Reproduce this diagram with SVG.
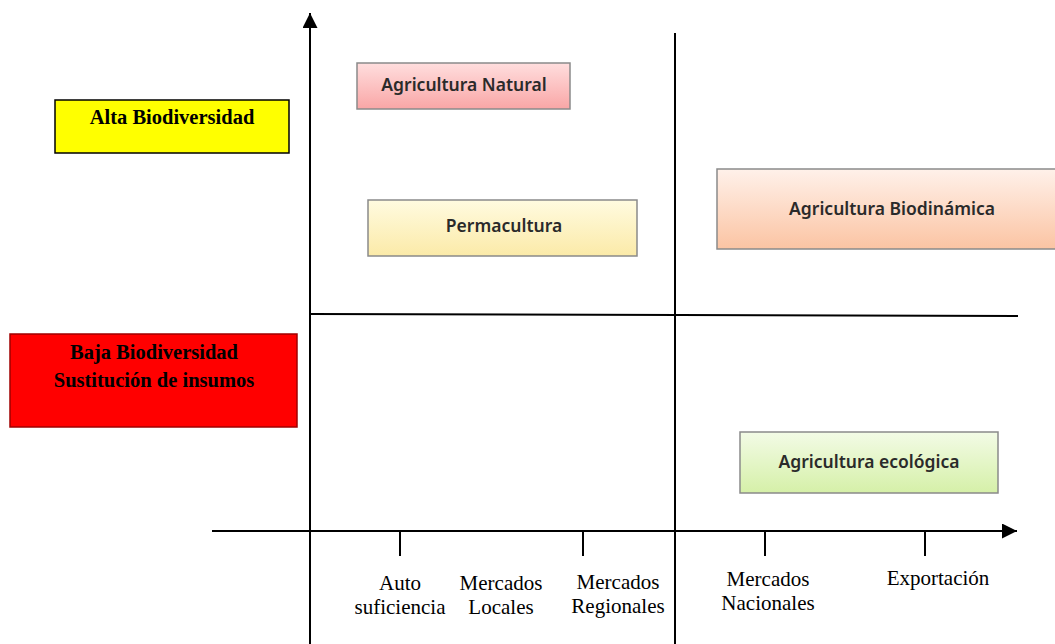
<svg xmlns="http://www.w3.org/2000/svg" width="1055" height="644" viewBox="0 0 1055 644">
<defs>
<linearGradient id="gPink" x1="0" y1="0" x2="0" y2="1"><stop offset="0" stop-color="#ffdede"/><stop offset="1" stop-color="#f9a6a6"/></linearGradient>
<linearGradient id="gYel" x1="0" y1="0" x2="0" y2="1"><stop offset="0" stop-color="#fffbe0"/><stop offset="1" stop-color="#fbeaa8"/></linearGradient>
<linearGradient id="gPeach" x1="0" y1="0" x2="0" y2="1"><stop offset="0" stop-color="#fff1ea"/><stop offset="1" stop-color="#fbc4a3"/></linearGradient>
<linearGradient id="gGreen" x1="0" y1="0" x2="0" y2="1"><stop offset="0" stop-color="#f3fbe6"/><stop offset="1" stop-color="#d5f0a8"/></linearGradient>
<marker id="arr" viewBox="0 0 10 10" refX="10" refY="5" markerWidth="15" markerHeight="15" markerUnits="userSpaceOnUse" orient="auto"><path d="M0,0 L10,5 L0,10 z" fill="#000"/></marker>
</defs>
<style>
.ax{stroke:#000;stroke-width:2;fill:none}
.box{stroke:#8a8a8a;stroke-width:1.5}
.bt{font-family:"Noto Sans","Open Sans",sans-serif;font-size:17.5px;font-weight:600;fill:#2a2a2a;text-anchor:middle}
.lt{font-family:"Liberation Serif",serif;font-size:21px;fill:#000;text-anchor:middle}
.lb{font-family:"Liberation Serif",serif;font-size:20.5px;font-weight:bold;fill:#000;text-anchor:middle}
</style>
<rect width="1055" height="644" fill="#fff"/>
<g id="connectors">
<line class="ax" x1="310" y1="644" x2="310" y2="13" marker-end="url(#arr)"/>
<line class="ax" x1="212" y1="531" x2="1017" y2="531" marker-end="url(#arr)"/>
<line class="ax" x1="675" y1="33" x2="675" y2="644"/>
<line class="ax" x1="310" y1="314" x2="1018" y2="316"/>
<line class="ax" x1="400" y1="531" x2="400" y2="556"/>
<line class="ax" x1="583" y1="531" x2="583" y2="556"/>
<line class="ax" x1="765" y1="531" x2="765" y2="556"/>
<line class="ax" x1="925" y1="531" x2="925" y2="556"/>
</g>
<g id="alta">
<rect x="55" y="100" width="234" height="53" fill="#ffff00" stroke="#000" stroke-width="1.5"/>
<text class="lb" x="172" y="124">Alta Biodiversidad</text>
</g>
<g id="baja">
<rect x="10" y="334" width="287" height="93" fill="#ff0000" stroke="#a00000" stroke-width="1.5"/>
<text class="lb" x="154" y="359">Baja Biodiversidad</text>
<text class="lb" x="154" y="387">Sustitución de insumos</text>
</g>
<g id="natural">
<rect class="box" x="357" y="63" width="213" height="46" fill="url(#gPink)"/>
<text class="bt" x="464" y="91">Agricultura Natural</text>
</g>
<g id="permacultura">
<rect class="box" x="368" y="200" width="269" height="56" fill="url(#gYel)"/>
<text class="bt" x="504" y="232">Permacultura</text>
</g>
<g id="biodinamica">
<rect class="box" x="717" y="169" width="345" height="80" fill="url(#gPeach)"/>
<text class="bt" x="892" y="215">Agricultura Biodinámica</text>
</g>
<g id="ecologica">
<rect class="box" x="740" y="432" width="258" height="61" fill="url(#gGreen)"/>
<text class="bt" x="869" y="468">Agricultura ecológica</text>
</g>
<g id="labels">
<text class="lt" x="400" y="590">Auto</text>
<text class="lt" x="400" y="614">suficiencia</text>
<text class="lt" x="501" y="590">Mercados</text>
<text class="lt" x="501" y="614">Locales</text>
<text class="lt" x="618" y="589">Mercados</text>
<text class="lt" x="618" y="613">Regionales</text>
<text class="lt" x="768" y="586">Mercados</text>
<text class="lt" x="768" y="610">Nacionales</text>
<text class="lt" x="938" y="585">Exportación</text>
</g>
</svg>
